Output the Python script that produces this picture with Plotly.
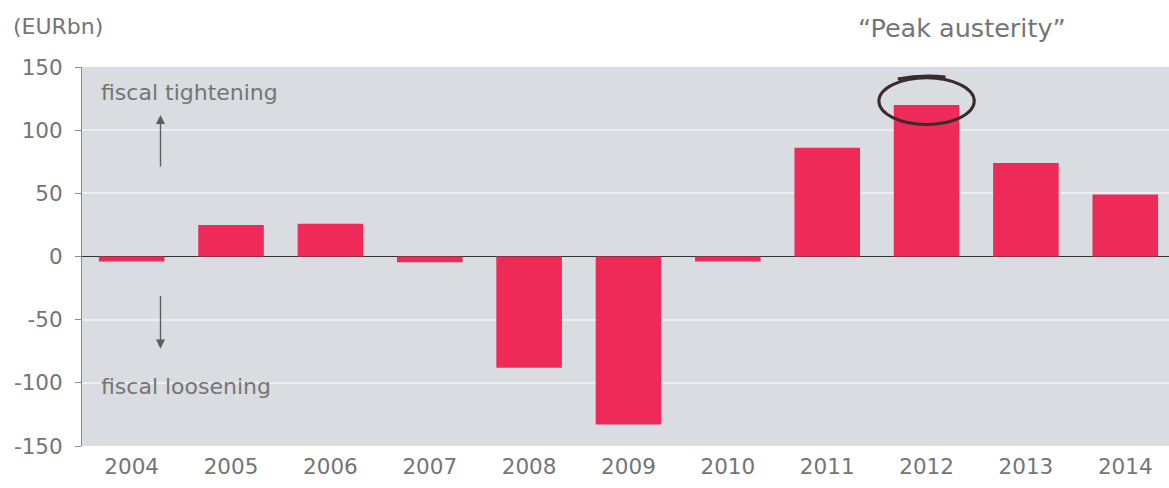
import plotly.graph_objects as go

years = ["2004", "2005", "2006", "2007", "2008", "2009", "2010", "2011", "2012", "2013", "2014"]
impulse = [-4, 25, 26, -4.5, -88, -133, -4, 86, 120, 74, 49]
y_ticks = [150, 100, 50, 0, -50, -100, -150]

BAR = "#EE2B58"
BG = "#D9DCE0"
TXT = "#757575"
FONT = "DejaVu Sans, Verdana, sans-serif"

fig = go.Figure(
    go.Bar(x=list(range(len(years))), y=impulse, marker_color=BAR,
           marker_line_width=0, width=0.66)
)

peak_idx = impulse.index(max(impulse))

fig.update_layout(
    width=1169,
    height=488,
    margin=dict(l=82, r=0, t=67, b=42),
    paper_bgcolor="white",
    plot_bgcolor=BG,
    showlegend=False,
    font=dict(family=FONT, color=TXT, size=20),
)

fig.update_xaxes(
    range=[-0.5, 10.44],
    tickvals=list(range(len(years))),
    ticktext=years,
    showgrid=False,
    showline=False,
    zeroline=False,
    ticks="",
    tickfont=dict(size=21.5, color=TXT),
    ticklabelstandoff=5,
)

fig.update_yaxes(
    range=[-150, 150],
    tickvals=y_ticks,
    ticktext=[str(v) for v in y_ticks],
    showgrid=True,
    gridcolor="#ECEEF0",
    gridwidth=1.5,
    zeroline=True,
    zerolinecolor="#333333",
    zerolinewidth=1.2,
    showline=True,
    linecolor="#8a8a8a",
    linewidth=1,
    ticks="outside",
    ticklen=6,
    tickcolor="#8a8a8a",
    tickfont=dict(size=21.5, color=TXT),
    ticklabelstandoff=8,
)

# unit label and headline
fig.add_annotation(text="(EURbn)", xref="paper", yref="paper", x=-0.065, y=1.0,
                   yshift=41, xanchor="left", yanchor="middle", showarrow=False,
                   font=dict(size=22, color=TXT))
fig.add_annotation(text="\u201cPeak austerity\u201d", xref="x", yref="paper", x=peak_idx,
                   y=1.0, yshift=39, xanchor="left", xshift=-71, yanchor="middle",
                   showarrow=False, font=dict(size=25.5, color=TXT))

# direction labels
fig.add_annotation(text="fiscal tightening", xref="paper", yref="y", x=0.016, y=130,
                   xanchor="left", yanchor="middle", showarrow=False,
                   font=dict(size=22, color=TXT))
fig.add_annotation(text="fiscal loosening", xref="paper", yref="y", x=0.016, y=-103,
                   xanchor="left", yanchor="middle", showarrow=False,
                   font=dict(size=22, color=TXT))

# direction arrows
arrow_x = 0.29
fig.add_annotation(x=arrow_x, y=112, ax=arrow_x, ay=70, xref="x", yref="y",
                   axref="x", ayref="y", text="", showarrow=True,
                   arrowhead=2, arrowsize=1.3, arrowwidth=1.4, arrowcolor="#5e5e5e")
fig.add_annotation(x=arrow_x, y=-73, ax=arrow_x, ay=-30, xref="x", yref="y",
                   axref="x", ayref="y", text="", showarrow=True,
                   arrowhead=2, arrowsize=1.3, arrowwidth=1.4, arrowcolor="#5e5e5e")

# hand-drawn circle around the peak bar
fig.add_shape(type="circle", xref="x", yref="y",
              x0=peak_idx - 0.48, x1=peak_idx + 0.48,
              y0=impulse[peak_idx] - 15.5, y1=impulse[peak_idx] + 21.5,
              line=dict(color="#3b2b2b", width=3))
fig.add_shape(type="path", xref="x", yref="y",
              path=f"M {peak_idx - 0.29},{impulse[peak_idx] + 20.5} "
                   f"Q {peak_idx - 0.05},{impulse[peak_idx] + 24} {peak_idx + 0.19},{impulse[peak_idx] + 22}",
              line=dict(color="#3b2b2b", width=3.2))

fig.write_html("out.html")
